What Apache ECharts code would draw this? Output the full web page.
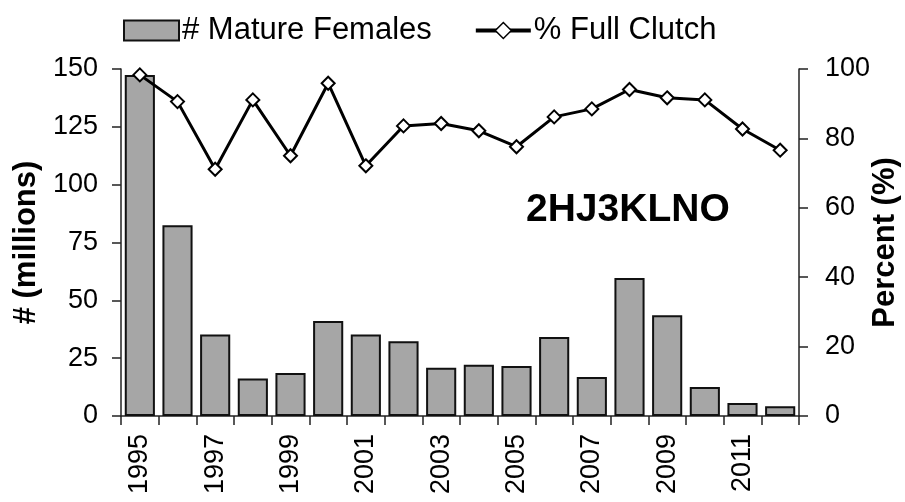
<!DOCTYPE html>
<html>
<head>
<meta charset="utf-8">
<script src="https://cdn.jsdelivr.net/npm/echarts@6/dist/echarts.min.js"></script>
<style>
  html, body { margin: 0; padding: 0; background: #fff; }
  #chart { width: 905px; height: 502px; }
</style>
</head>
<body>
<div id="chart"></div>
<script>
// data
const years = ['1995','1996','1997','1998','1999','2000','2001','2002','2003',
               '2004','2005','2006','2007','2008','2009','2010','2011','2012'];
const matureFemales = [147.4, 82.5, 35.2, 16.2, 18.6, 41.1, 35.2, 32.3, 20.9,
                       22.2, 21.6, 34.2, 16.9, 59.7, 43.6, 12.5, 5.6, 4.2];
const fullClutch = [98.3, 90.6, 71.1, 91.1, 75.0, 95.9, 72.1, 83.6, 84.3,
                    82.2, 77.6, 86.2, 88.5, 94.1, 91.7, 91.1, 82.7, 76.6];

const FONT = 'Liberation Sans, Arial, sans-serif';
const chart = echarts.init(document.getElementById('chart'));

chart.setOption({
  animation: false,
  textStyle: { fontFamily: FONT, color: '#000' },
  grid: { left: 121, right: 106, top: 69, bottom: 86, containLabel: false, outerBoundsMode: 'none' },
  legend: {
    left: 118, top: 10,
    itemWidth: 55, itemHeight: 20, itemGap: 42,
    textStyle: { fontSize: 31, color: '#000', fontFamily: FONT, padding: [0, 0, 0, -2] },
    data: [
      { name: '# Mature Females', icon: 'rect' },
      { name: '% Full Clutch', lineStyle: { width: 4, color: '#000' },
        itemStyle: { color: '#fff', borderColor: '#000', borderWidth: 1.5 } }
    ]
  },
  graphic: [{
    type: 'text', left: 526, top: 191,
    style: { text: '2HJ3KLNO', font: 'bold 39px ' + FONT, fill: '#000' }
  }],
  xAxis: {
    type: 'category',
    data: years,
    axisLine: { lineStyle: { color: '#222', width: 1.5 } },
    axisTick: { show: true, interval: 0, length: 9, lineStyle: { color: '#222', width: 1.5 } },
    axisLabel: { interval: 1, rotate: 90, fontSize: 27, margin: 18, color: '#000' }
  },
  yAxis: [{
    type: 'value', min: 0, max: 150, interval: 25,
    name: '# (millions)', nameLocation: 'middle', nameGap: 79, nameMoveOverlap: false,
    nameTextStyle: { fontSize: 31, fontWeight: 'bold', color: '#000' },
    axisLine: { show: true, lineStyle: { color: '#222', width: 1.5 } },
    axisTick: { show: true, length: 9, lineStyle: { color: '#222', width: 1.5 } },
    axisLabel: { fontSize: 27, margin: 23, color: '#000' },
    splitLine: { show: false }
  }, {
    type: 'value', min: 0, max: 100, interval: 20, position: 'right',
    name: 'Percent (%)', nameLocation: 'middle', nameGap: 71, nameMoveOverlap: false,
    nameTextStyle: { fontSize: 31, fontWeight: 'bold', color: '#000' },
    axisLine: { show: true, lineStyle: { color: '#222', width: 1.5 } },
    axisTick: { show: true, length: 9, lineStyle: { color: '#222', width: 1.5 } },
    axisLabel: { fontSize: 27, margin: 26, color: '#000' },
    splitLine: { show: false }
  }],
  series: [{
    name: '# Mature Females',
    type: 'bar',
    yAxisIndex: 0,
    data: matureFemales,
    barCategoryGap: '20%',
    itemStyle: { color: '#a6a6a6', borderColor: '#111', borderWidth: 2 }
  }, {
    name: '% Full Clutch',
    type: 'line',
    yAxisIndex: 1,
    data: fullClutch,
    symbol: 'diamond',
    symbolSize: 13,
    lineStyle: { color: '#000', width: 3 },
    itemStyle: { color: '#fff', borderColor: '#000', borderWidth: 2 }
  }]
});
</script>
</body>
</html>
